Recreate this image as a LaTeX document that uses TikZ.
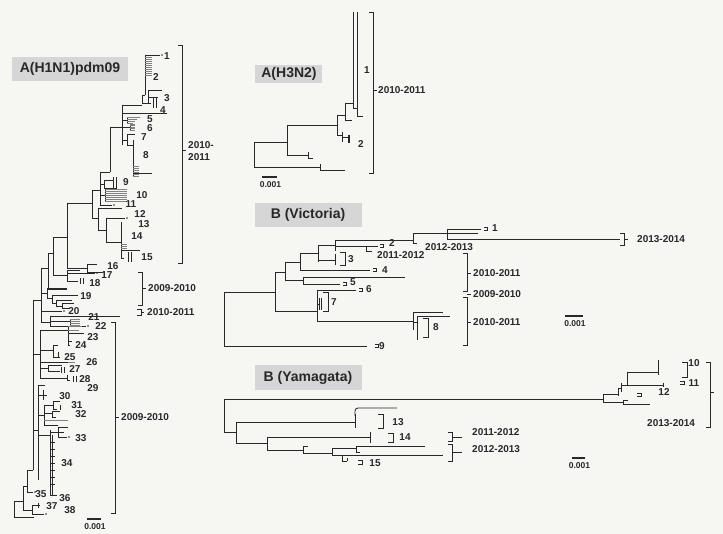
\documentclass[tikz,border=0pt]{standalone}
\usepackage{fontspec}
\setmainfont{Liberation Sans}
\usepackage{xcolor}
\usepackage{tikz}
\usetikzlibrary{positioning, calc}
\definecolor{TreeInk}{RGB}{40,40,40}
\definecolor{TreeGray}{RGB}{130,130,130}
\definecolor{BoxGray}{RGB}{214,214,214}
\definecolor{PageBg}{RGB}{246,246,243}

\begin{document}
\begin{tikzpicture}[x=1pt, y=-1pt,
    branch/.style={TreeInk, line width=0.85pt},
    comb/.style={TreeGray, line width=0.6pt},
    tiplab/.style={font=\bfseries\fontsize{10}{10}\selectfont, text=TreeInk, inner sep=0pt},
    yrlab/.style={font=\bfseries\fontsize{10}{11.5}\selectfont, text=TreeInk, inner sep=0pt, anchor=west, align=left},
    cladebox/.style={font=\bfseries\fontsize{14}{14}\selectfont, text=TreeInk, inner sep=0pt},
    scalelab/.style={font=\bfseries\fontsize{8.5}{8.5}\selectfont, text=TreeInk, inner sep=0pt}]
  \fill[PageBg] (0,0) rectangle (723,534);
  \useasboundingbox (0,0) rectangle (723,534);

  % panel titles
  \fill[BoxGray] (12,57) rectangle (128,81);
  \node[cladebox] (tH1) at (70,69) {A(H1N1)pdm09};
  \fill[BoxGray] (255,65) rectangle (322,83);
  \node[cladebox] (tH3) at (289,74) {A(H3N2)};
  \fill[BoxGray] (255,203) rectangle (362,227);
  \node[cladebox] (tBV) at (308,215) {B (Victoria)};
  \fill[BoxGray] (255,365) rectangle (362,390);
  \node[cladebox] (tBY) at (308,378) {B (Yamagata)};

  % A(H1N1)pdm09 tree
  \foreach \xx/\ya/\yb in {14/501/517, 23/486/510, 32/505/514, 38/503/508, 27/470/492,
      33/300/470, 41/268/322, 47/288/298, 52/295/303, 56/300/306, 62/303/308,
      50/316/327, 70/319/325, 48/253/289, 53/237/275, 67/270/281, 80/278/284,
      83/278/284, 67/203/268, 87/264/272, 92/190/218, 100/172/205, 104/180/188,
      113/177/189, 116/177/189, 105/189/201, 110/127/172, 122/105/145, 142/95/103,
      145/55/95, 148/90/103, 153/97/108, 156/97/108, 127/117/123, 130/124/131,
      127/134/145, 133/140/177, 98/208/230, 106/218/242, 121/222/258, 128/252/262,
      131/252/262, 40/330/378, 68/326/345, 53/345/357, 58/352/357, 48/365/371,
      61/367/373, 64/367/373, 67/375/380, 73/376/382, 76/376/382, 38/385/480,
      43/390/400, 44/405/425, 53/401/409, 60/405/410, 52/411/417, 50/430/495,
      52/435/495, 58/427/437}
    \draw[branch] (\xx,\ya) -- (\xx,\yb);
  \foreach \xa/\xb/\yy in {14/23/501, 14/34/517, 23/27/486, 23/32/510, 32/40/505,
      32/44/514, 27/33/470, 27/33/492, 33/41/300, 33/40/354, 33/38/430,
      41/48/268, 41/47/293, 41/62/311, 41/50/322, 47/67/288, 47/52/298, 52/78/295,
      52/56/303, 56/72/300, 56/62/306, 62/74/303, 62/70/308, 50/120/316, 50/70/321,
      50/86/326, 48/53/253, 48/67/289, 53/67/237, 53/67/275, 67/80/270, 67/95/273,
      67/78/281, 67/92/203, 67/87/268, 87/97/264, 87/102/272, 92/100/190, 92/98/218,
      100/110/172, 100/104/184, 100/105/195, 100/112/205, 104/113/180, 104/117/188,
      110/122/127, 122/142/105, 122/167/113, 122/127/120, 122/130/127, 122/127/140,
      142/145/95, 142/148/103, 145/160/55, 148/162/90, 148/158/97, 148/151/103,
      127/135/134, 127/133/145, 133/152/173, 98/122/208, 98/106/230, 106/125/218,
      106/121/242, 121/140/250, 121/124/258, 40/68/330, 68/84/333, 68/72/341,
      68/70/345, 40/53/350, 53/58/345, 53/60/357, 40/68/362, 40/48/368, 48/62/365,
      48/60/371, 40/67/378, 67/70/380, 38/45/385, 38/43/395, 40/47/395, 38/44/415,
      44/53/405, 53/60/401, 53/57/409, 44/52/413, 52/60/411, 52/56/417, 44/58/425,
      38/50/435, 50/58/432, 58/68/427, 58/64/432, 58/67/437, 50/57/495}
    \draw[branch] (\xa,\yy) -- (\xb,\yy);
  % dense tips drawn grey
  \foreach \yy in {57,59,...,75} \draw[comb] (145,\yy) -- (152,\yy);
  \foreach \yy in {189,191,...,201} \draw[comb] (105,\yy) -- (127,\yy);
  \foreach \yy in {166,168,...,176} \draw[comb] (133,\yy) -- (139,\yy);
  \foreach \yy in {124,125.5,...,131} \draw[comb] (130,\yy) -- (135,\yy);
  \foreach \yy in {319,321,...,325} \draw[comb] (70,\yy) -- (80,\yy);
  \foreach \yy in {244,246,248} \draw[comb] (121,\yy) -- (127,\yy);
  \foreach \xa/\xb/\yy in {127/140/117, 127/137/119, 127/135/121, 127/133/123,
      68/82/326, 68/79/330, 68/75/362, 44/68/420}
    \draw[comb] (\xa,\yy) -- (\xb,\yy);
  \foreach \yy in {442,449,...,490} \draw[branch] (50,\yy) -- (55,\yy);
  \foreach \dx/\dy in {162/55, 104/272, 97/273, 64/311, 88/326, 114/205, 127/218,
      69/437, 46/514, 35/492}
    \fill[TreeInk] (\dx,\dy) circle (0.9);
  \foreach \n/\lx/\ly in {1/167/56, 2/156/77, 3/167/98, 4/163/110, 5/150/119,
      6/150/128, 7/144/137, 8/146/155, 9/126/182, 10/142/195, 11/131/204,
      12/140/214, 13/144/224, 14/137/236, 15/147/257, 16/113/266, 17/107/275,
      18/95/283, 19/86/296, 20/74/311, 21/94/317, 22/101/326, 23/93/337,
      24/81/345, 25/70/357, 26/92/362, 27/75/369, 28/85/379, 29/93/388,
      30/65/396, 31/77/405, 32/81/414, 33/81/438, 34/67/463, 35/41/494,
      36/65/498, 37/52/506, 38/70/510}
    \node[tiplab] (h\n) at (\lx,\ly) {\n};

  % A(H3N2) tree
  \foreach \xx/\ya/\yb in {254/142/167, 320/164/170, 287/125/155, 308/152/158,
      337/115/135, 345/103/120, 342/132/142, 353/12/108, 357/12/116}
    \draw[branch] (\xx,\ya) -- (\xx,\yb);
  \foreach \xa/\xb/\yy in {254/287/142, 254/320/167, 320/345/170, 287/337/125,
      287/308/155, 308/313/158, 337/345/115, 337/342/135, 345/353/103, 345/352/120,
      353/357/108, 357/363/116, 342/349/137}
    \draw[branch] (\xa,\yy) -- (\xb,\yy);
  \draw[branch, line width=1.6pt] (349,135) -- (349,143);
  \node[tiplab] (n1) at (367,70) {1};
  \node[tiplab] (n2) at (361,144) {2};

  % B (Victoria) tree
  \foreach \xx/\ya/\yb in {224/292/346, 275/272/311, 285/262/280, 303/277/284,
      300/253/270, 318/245/262, 335/254/265, 335/240/251, 366/246/251,
      413/233/243, 447/229/239, 317/290/321, 319/298/310, 321/298/310,
      413/312/330, 417/316/340}
    \draw[branch] (\xx,\ya) -- (\xx,\yb);
  \foreach \xa/\xb/\yy in {224/275/292, 224/367/346, 275/285/272, 275/317/311,
      285/300/262, 285/303/280, 303/405/277, 303/340/284, 300/318/253, 300/370/270,
      318/335/245, 318/335/260, 335/413/240, 335/378/246, 366/372/251,
      413/447/233, 413/417/243, 447/481/229, 447/478/233, 447/620/239,
      317/356/290, 317/320/304, 317/413/321, 413/443/312, 413/417/322, 417/450/316}
    \draw[branch] (\xa,\yy) -- (\xb,\yy);
  % small open tips
  \foreach \px/\py in {380/246, 373/270, 343/284, 359/290, 375/346, 484/229}
    \draw[branch, line width=0.6pt] (\px,\py-1.8) -- (\px+3.5,\py-1.8)
      -- (\px+3.5,\py+1.8) -- (\px,\py+1.8);
  \foreach \n/\lx/\ly in {1/495/228, 2/392/243, 4/385/270, 5/353/282, 6/369/289,
      9/382/346}
    \node[tiplab] (v\n) at (\lx,\ly) {\n};

  % B (Yamagata) tree
  \foreach \xx/\ya/\yb in {224/399/432, 236/422/443, 355/414/428, 267/437/450,
      370/432/443, 303/446/453, 332/448/455, 356/446/452, 342/455/461, 347/458/461,
      603/394/402, 623/400/404, 618/388/396, 621/383/392, 627/372/385, 658/360/375,
      663/383/387}
    \draw[branch] (\xx,\ya) -- (\xx,\yb);
  \foreach \xa/\xb/\yy in {224/603/399, 224/236/432, 236/355/422, 236/267/443,
      267/370/437, 267/303/450, 303/308/446, 303/332/453, 332/356/448, 356/425/446,
      356/360/452, 332/443/455, 342/347/461, 603/618/394, 603/623/402, 623/628/400,
      623/650/404, 618/621/388, 621/627/385, 627/658/372, 627/663/385}
    \draw[branch] (\xa,\yy) -- (\xb,\yy);
  \draw[branch, rounded corners=3pt] (355,416) -- (355,408) -- (397,408);
  \foreach \px/\py in {358/462, 637/395, 680/383}
    \draw[branch, line width=0.6pt] (\px,\py-1.8) -- (\px+4.5,\py-1.8)
      -- (\px+4.5,\py+1.8) -- (\px,\py+1.8);
  \foreach \n/\lx/\ly in {12/664/392, 11/694/383, 10/694/363, 13/398/422,
      14/405/437, 15/375/463}
    \node[tiplab] (y\n) at (\lx,\ly) {\n};

  % season brackets
  \foreach \bx/\bt/\bb/\bm/\bl in {182/45/263/150/4, 142/272/305/288/4,
      141/309/315/312/3, 115/322/513/417/4, 373/12/173/90/4, 624/233/245/239/4,
      710/362/427/392/4, 452/432/441/437/10, 452/444/461/452/10}
  {
    \draw[branch] (\bx-4,\bt) -- (\bx,\bt) -- (\bx,\bb) -- (\bx-4,\bb);
    \draw[branch] (\bx,\bm) -- (\bx+\bl,\bm);
  }
  \foreach \bx/\bt/\bb in {345/252/265, 328/292/311, 428/318/337, 383/414/428,
      393/433/442, 687/362/377}
    \draw[branch] (\bx-5,\bt) -- (\bx,\bt) -- (\bx,\bb) -- (\bx-5,\bb);
  \foreach \n/\lx/\ly in {3/351/259, 7/334/302, 8/436/327}
    \node[tiplab] (v\n) at (\lx,\ly) {\n};
  % Victoria bracket with a break at 2009-2010
  \draw[branch] (463,253) -- (467,253) -- (467,291) -- (463,291);
  \draw[branch] (463,297) -- (467,297) -- (467,345) -- (463,345);
  \foreach \yy in {273,294,322} \draw[branch] (467,\yy) -- (471,\yy);

  \node[yrlab] (s1) at (188,151) {2010-\\2011};
  \node[yrlab] (s2) at (148,288) {2009-2010};
  \node[yrlab] (s3) at (147,312) {2010-2011};
  \node[yrlab] (s4) at (121,417) {2009-2010};
  \node[yrlab] (s5) at (378,90) {2010-2011};
  \node[yrlab] (s6) at (637,239) {2013-2014};
  \node[yrlab] (s7) at (425,247) {2012-2013};
  \node[yrlab] (s8) at (377,255) {2011-2012};
  \node[yrlab] (s9) at (473,273) {2010-2011};
  \node[yrlab] (s10) at (473,294) {2009-2010};
  \node[yrlab] (s11) at (473,322) {2010-2011};
  \node[yrlab] (s12) at (472,432) {2011-2012};
  \node[yrlab] (s13) at (472,449) {2012-2013};
  \node[yrlab] (s14) at (647,423) {2013-2014};

  % scale bars
  \foreach \xa/\xb/\yy/\nm in {87/101/519/sH1, 262/277/177/sH3, 565/583/316/sBV,
      572/585/458/sBY}
  {
    \draw[TreeInk, line width=1.3pt] (\xa,\yy) -- (\xb,\yy);
    \node[scalelab] (\nm) at ({(\xa+\xb)/2+1},\yy+8) {0.001};
  }
\end{tikzpicture}
\end{document}
